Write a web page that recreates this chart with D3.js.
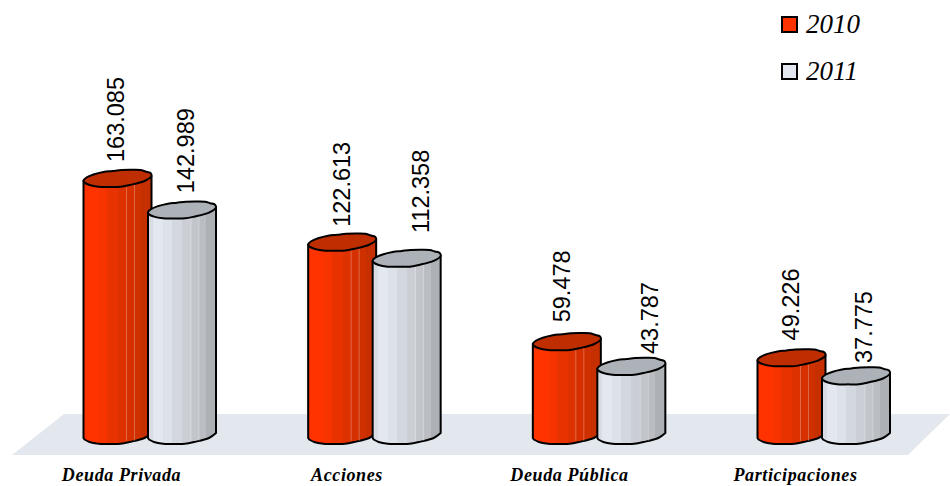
<!DOCTYPE html>
<html>
<head>
<meta charset="utf-8">
<script src="https://cdn.jsdelivr.net/npm/d3@7"></script>
<style>
  html, body { margin: 0; padding: 0; background: #fff; }
  svg { display: block; }
</style>
</head>
<body>
<div id="chart"></div>
<script>
// values
const categories = ['Deuda Privada', 'Acciones', 'Deuda Pública', 'Participaciones'];
const years = ['2010', '2011'];
const values2010 = [163085, 122613, 59478, 49226];
const values2011 = [142989, 112358, 43787, 37775];

const width = 950, height = 486;
const barW = 68;

// body shading: band start (px from the bar's left edge) and colour
const redStarts = [0, 16, 24, 35, 43, 51, 58];
const redBands = ['#ff3300', '#f73300', '#e83200', '#dd3100', '#d63000', '#cf3000', '#c63000'];
const greyStarts = [0, 5, 15, 24, 34, 43, 51, 58];
const greyBands = ['#d9dde3', '#e3e8f0', '#dde1e8', '#d3d7de', '#cbcfd5', '#c2c6cb', '#babdc2', '#adb1b5'];
const colors = {
  '2010': {body: 'url(#band-2010)', cap: '#bf2e00', key: '#ff3300'},
  '2011': {body: 'url(#band-2011)', cap: '#adb1b8', key: '#e3e8f0'}
};

// the source chart's labels sit unevenly, so each one gets its own nudge
const labelDx = [[40.5, 41.5, 37, 41], [46, 56, 61, 50]];
const labelDy = [[-17, -16, -20, -18], [-17.5, -26, -13, -13.5]];

const svg = d3.select('#chart').append('svg')
  .attr('width', width).attr('height', height);

const x = d3.scalePoint().domain(categories).range([83.5, 757.5]);
const xYear = d3.scalePoint().domain(years).range([0, 64.5]);
const y = d3.scaleLinear().domain([0, 163085]).range([436, 179]);

function addBands(id, starts, bands) {
  const grad = svg.append('defs').append('linearGradient').attr('id', id);
  bands.forEach((c, i) => {
    const end = i + 1 < starts.length ? starts[i + 1] : barW;
    grad.append('stop').attr('offset', starts[i] / barW).attr('stop-color', c);
    grad.append('stop').attr('offset', end / barW).attr('stop-color', c);
  });
}
addBands('band-2010', redStarts, redBands);
addBands('band-2011', greyStarts, greyBands);

// floor
svg.append('path')
  .attr('d', 'M64,414L950,414L908,455L12,455Z')
  .attr('fill', '#e3e8ef');

// outline of the lid, relative to the left edge and the lid's centre line
const capShape = [
  [0, 1.5], [3, -1.5], [10, -4.5], [20, -7], [29, -8], [38, -9], [47, -9.2], [57, -9], [62, -7.5], [67, -6], [68, -3],
  [61, 2], [46, 6], [37, 7.7], [26, 7.9], [15, 7.7], [6, 6], [1, 3.5]
];
const lowerEdge = capShape.slice(10);
const lineClosed = d3.line().curve(d3.curveCatmullRomClosed.alpha(0.5));
const lineOpen = d3.line().curve(d3.curveCatmullRom.alpha(0.5));

const rows = [];
categories.forEach((c, i) => {
  rows.push({cat: c, year: '2010', v: values2010[i], i: i, s: 0});
  rows.push({cat: c, year: '2011', v: values2011[i], i: i, s: 1});
});

const bars = svg.append('g').selectAll('g').data(rows).join('g');

bars.append('path')
  .attr('d', d => {
    const x0 = x(d.cat) + xYear(d.year);
    const base = lowerEdge.map(p => [x0 + p[0], y(0) + p[1]]);
    return 'M' + (x0 + barW) + ',' + (y(d.v) - 3) +
      lineOpen(base).replace(/^M/, 'L') +
      'L' + x0 + ',' + (y(0) + 2) +
      'L' + x0 + ',' + (y(d.v) + 2) + 'Z';
  })
  .attr('fill', d => colors[d.year].body)
  .attr('stroke', '#000').attr('stroke-width', 2).attr('stroke-linejoin', 'round');

// thin pale seams on the bodies
bars.each(function (d) {
  const x0 = x(d.cat) + xYear(d.year);
  [43, 51].forEach(dx => {
    d3.select(this).append('line')
      .attr('x1', x0 + dx).attr('x2', x0 + dx)
      .attr('y1', y(d.v) + 6).attr('y2', y(0) + 5)
      .attr('stroke', '#fff').attr('stroke-opacity', 0.28).attr('stroke-width', 1);
  });
});

bars.append('path')
  .attr('d', d => {
    const x0 = x(d.cat) + xYear(d.year);
    return lineClosed(capShape.map(p => [x0 + p[0], y(d.v) + p[1]]));
  })
  .attr('fill', d => colors[d.year].cap)
  .attr('stroke', '#000').attr('stroke-width', 2);

// data labels, vertical
bars.append('text')
  .attr('transform', d => {
    const tx = x(d.cat) + xYear(d.year) + labelDx[d.s][d.i];
    return `translate(${tx},${y(d.v) + labelDy[d.s][d.i]}) rotate(-90)`;
  })
  .attr('font-family', '"Liberation Sans", Arial, sans-serif')
  .attr('font-size', 23.5)
  .attr('fill', '#000')
  .text(d => d3.format(',')(d.v).replace(',', '.'));

// category labels
svg.append('g').selectAll('text').data(categories).join('text')
  .attr('x', (d, i) => [121.5, 347, 569.5, 795.5][i])
  .attr('y', 481)
  .attr('text-anchor', 'middle')
  .attr('font-family', '"Liberation Serif", "Times New Roman", serif')
  .attr('font-weight', 'bold').attr('font-style', 'italic')
  .attr('font-size', 18).attr('letter-spacing', 0.6)
  .text(d => d);

// legend
const legend = svg.append('g').selectAll('g').data(years).join('g')
  .attr('transform', (d, i) => `translate(781,${16 + i * 47})`);
legend.append('rect')
  .attr('x', 1).attr('y', 1).attr('width', 15).attr('height', 15)
  .attr('fill', d => colors[d].key)
  .attr('stroke', '#000').attr('stroke-width', 2);
legend.append('text')
  .attr('x', 25).attr('y', 17)
  .attr('font-family', '"Liberation Serif", "Times New Roman", serif')
  .attr('font-style', 'italic').attr('font-size', 27)
  .text(d => d);
</script>
</body>
</html>
